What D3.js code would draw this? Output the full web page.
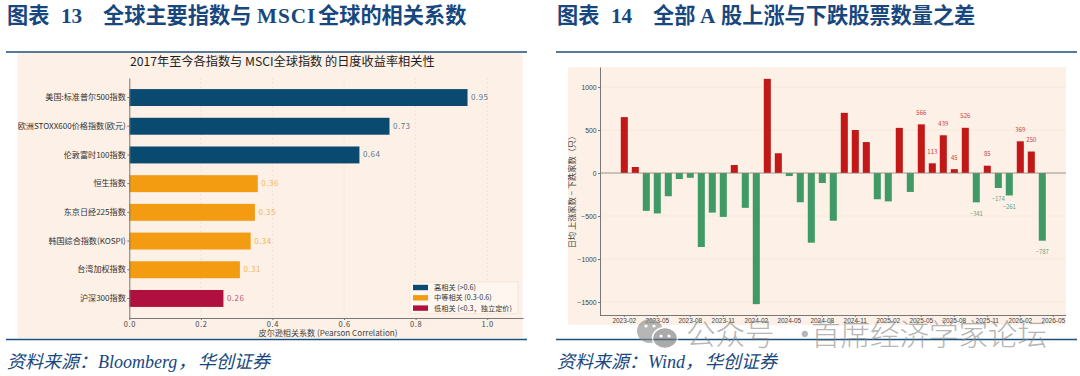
<!DOCTYPE html>
<html>
<head>
<meta charset="utf-8">
<script src="https://cdn.jsdelivr.net/npm/d3@7"></script>
<style>
    html, body { margin: 0; padding: 0; background: #fff; }
    svg { display: block; }
    text { font-family: "Noto Sans CJK SC", "Liberation Sans", sans-serif; }
    .latin { font-family: "Liberation Serif", serif; }
    .axis path, .axis line { stroke: #777; }
</style>
</head>
<body>
<svg id="page" width="1080" height="376"></svg>
<script>
// left chart
const indexNames = ["美国:标准普尔500指数", "欧洲STOXX600价格指数(欧元)", "伦敦富时100指数", "恒生指数",
    "东京日经225指数", "韩国综合指数(KOSPI)", "台湾加权指数", "沪深300指数"];
const correlations = [0.945, 0.727, 0.643, 0.359, 0.351, 0.339, 0.309, 0.263];
const corrLabels = ["0.95", "0.73", "0.64", "0.36", "0.35", "0.34", "0.31", "0.26"];
const corrTicks = [0, 0.2, 0.4, 0.6, 0.8, 1.0];
const legendLabels = ["高相关 (>0.6)", "中等相关 (0.3-0.6)", "低相关 (<0.3，独立定价)"];

// right chart
const months = ["2023-02", "2023-03", "2023-04", "2023-05", "2023-06", "2023-07", "2023-08", "2023-09", "2023-10", "2023-11",
    "2023-12", "2024-01", "2024-02", "2024-03", "2024-04", "2024-05", "2024-06", "2024-07", "2024-08", "2024-09",
    "2024-10", "2024-11", "2024-12", "2025-01", "2025-02", "2025-03", "2025-04", "2025-05", "2025-06", "2025-07",
    "2025-08", "2025-09", "2025-10", "2025-11", "2025-12", "2026-01", "2026-02", "2026-03", "2026-04", "2026-05"];
const breadth = [650, 70, -440, -470, -270, -70, -55, -860, -460, -510,
    93, -405, -1525, 1095, 230, -35, -340, -810, -116, -555,
    700, 500, 360, -305, -330, 525, -220, 566, 113, 439,
    45, 526, -341, 85, -174, -261, 369, 250, -787];
// only the last months carry a number on the chart
const labelledFrom = 27;
const breadthTicks = [1000, 500, 0, -500, -1000, -1500];

const navy = "#0b4a70", orange = "#f39c12", crimson = "#b0103f";
const red = "#c21818", green = "#3f9a66";
const headBlue = "#17477e", panelBg = "#fdf0e6";

function corrColor(v) {
    if (v > 0.6) return navy;
    if (v >= 0.3) return orange;
    return crimson;
}

const svg = d3.select("#page");

// headings, rules and sources
function heading(parts) {
    let t = svg.append("text")
        .attr("y", 23)
        .attr("fill", headBlue)
        .style("font-size", "21.2px")
        .style("font-weight", 700);
    parts.forEach(p => {
        t.append("tspan")
            .attr("x", p.x)
            .attr("class", p.latin ? "latin" : null)
            .style("letter-spacing", p.spacing ? p.spacing + "px" : null)
            .text(p.text);
    });
}
heading([
    { x: 7, text: "图表" },
    { x: 61, text: "13", latin: true },
    { x: 103, text: "全球主要指数与" },
    { x: 257, text: "MSCI", latin: true, spacing: 1 },
    { x: 318, text: "全球的相关系数" }
]);
heading([
    { x: 557, text: "图表" },
    { x: 611, text: "14", latin: true },
    { x: 653, text: "全部" },
    { x: 700, text: "A", latin: true },
    { x: 721, text: "股上涨与下跌股票数量之差" }
]);

function source(parts) {
    let t = svg.append("text")
        .attr("y", 368)
        .attr("fill", headBlue)
        .style("font-size", "18px")
        .style("font-style", "italic");
    parts.forEach(p => {
        t.append("tspan")
            .attr("x", p.x)
            .attr("class", p.latin ? "latin" : null)
            .text(p.text);
    });
}
source([{ x: 7, text: "资料来源：" }, { x: 98, text: "Bloomberg", latin: true }, { x: 178, text: "，" }, { x: 198, text: "华创证券" }]);
source([{ x: 557, text: "资料来源：" }, { x: 648, text: "Wind", latin: true }, { x: 685, text: "，" }, { x: 705, text: "华创证券" }]);

// panels go under the rules
svg.append("rect").attr("x", 17.5).attr("y", 53).attr("width", 505).attr("height", 285).attr("fill", panelBg);
svg.append("rect").attr("x", 568).attr("y", 67).attr("width", 498).attr("height", 258).attr("fill", panelBg);

[[6, 527], [556, 1077]].forEach(r => {
    [52, 339.5].forEach(y => {
        svg.append("line")
            .attr("x1", r[0]).attr("x2", r[1]).attr("y1", y).attr("y2", y)
            .attr("stroke", "#1f4e79").attr("stroke-width", 1.5);
    });
});

// ---- left chart
const x = d3.scaleLinear().domain([0, 1.1]).range([129.3, 523]);
const y = d3.scaleBand().domain(indexNames).range([78, 318]).paddingInner(0.41).paddingOuter(0.386);

svg.append("text")
    .attr("x", 282.3).attr("y", 65.5)
    .attr("text-anchor", "middle")
    .attr("fill", "#222")
    .style("font-size", "12.2px")
    .text("2017年至今各指数与 MSCI全球指数 的日度收益率相关性");

svg.append("g").selectAll("line")
    .data(corrTicks.slice(1))
    .enter().append("line")
    .attr("x1", d => x(d)).attr("x2", d => x(d))
    .attr("y1", 78).attr("y2", 318)
    .attr("stroke", "#e9dcd0").attr("stroke-width", 0.6).attr("stroke-dasharray", "2,2");

svg.selectAll(".corr")
    .data(indexNames)
    .enter().append("rect")
    .attr("class", "corr")
    .attr("x", x(0))
    .attr("y", d => y(d))
    .attr("height", y.bandwidth())
    .attr("width", (d, i) => x(correlations[i]) - x(0))
    .attr("fill", (d, i) => corrColor(correlations[i]));

svg.selectAll(".corr-label")
    .data(indexNames)
    .enter().append("text")
    .attr("class", "corr-label")
    .attr("x", (d, i) => x(correlations[i]) + 3.5)
    .attr("y", d => y(d) + y.bandwidth() / 2 + 2.5)
    .attr("fill", (d, i) => corrColor(correlations[i]))
    .attr("fill-opacity", 0.75)
    .style("font-size", "8px")
    .style("letter-spacing", "0.5px")
    .text((d, i) => corrLabels[i]);

let xAxis = svg.append("g")
    .attr("class", "axis")
    .attr("transform", "translate(0,318)")
    .call(d3.axisBottom(x).tickValues(corrTicks).tickFormat(d3.format(".1f")).tickSize(2).tickSizeOuter(0).tickPadding(2));
xAxis.selectAll("text").attr("fill", "#444").style("font-size", "7.5px").style("letter-spacing", "0.6px");

let yAxis = svg.append("g")
    .attr("class", "axis")
    .attr("transform", "translate(129.3,0)")
    .call(d3.axisLeft(y).tickSize(2).tickSizeOuter(0).tickPadding(1.5));
yAxis.selectAll("text").attr("fill", "#333").style("font-size", "8.1px");

svg.append("text")
    .attr("x", 328).attr("y", 336)
    .attr("text-anchor", "middle")
    .attr("fill", "#444")
    .style("font-size", "8.1px")
    .text("皮尔逊相关系数 (Pearson Correlation)");

// legend
svg.append("rect")
    .attr("x", 410).attr("y", 282).attr("width", 108).attr("height", 31.5)
    .attr("fill", "#fef6ef").attr("stroke", "#eadfd4").attr("stroke-width", 0.6);
let legend = svg.selectAll(".legend")
    .data(legendLabels)
    .enter().append("g")
    .attr("class", "legend")
    .attr("transform", (d, i) => "translate(413," + (287.5 + i * 10.3) + ")");
legend.append("rect")
    .attr("y", -2.7).attr("width", 15).attr("height", 5.4)
    .attr("fill", (d, i) => [navy, orange, crimson][i]);
legend.append("text")
    .attr("x", 21).attr("y", 2.6)
    .attr("fill", "#333")
    .style("font-size", "7.2px")
    .text(d => d);

// ---- right chart
const bx = d3.scaleBand().domain(months).range([618.8, 1058.8]).paddingInner(0.36).paddingOuter(0.18);
const by = d3.scaleLinear().domain([-1651, 1233]).range([315, 67]);

svg.append("g").selectAll("line")
    .data(breadthTicks)
    .enter().append("line")
    .attr("x1", 600).attr("x2", 1066)
    .attr("y1", d => by(d)).attr("y2", d => by(d))
    .attr("stroke", "#f3e5d9").attr("stroke-width", 0.6);

svg.selectAll(".bar")
    .data(breadth)
    .enter().append("rect")
    .attr("class", "bar")
    .attr("x", (d, i) => bx(months[i]))
    .attr("width", bx.bandwidth())
    .attr("y", d => Math.min(by(d), by(0)))
    .attr("height", d => Math.abs(by(d) - by(0)))
    .attr("fill", d => d > 0 ? red : green);

svg.selectAll(".bar-label")
    .data(breadth.slice(labelledFrom))
    .enter().append("text")
    .attr("class", "bar-label")
    .attr("x", (d, i) => bx(months[i + labelledFrom]) + bx.bandwidth() / 2)
    .attr("y", d => by(d) + (d > 0 ? -9.5 : 13.5))
    .attr("text-anchor", "middle")
    .attr("fill", d => d > 0 ? "#c94040" : "#5fa583")
    .style("font-size", "6px")
    .text(d => d < 0 ? "−" + Math.abs(d) : d);

svg.append("line")
    .attr("x1", 600).attr("x2", 1066).attr("y1", by(0)).attr("y2", by(0))
    .attr("stroke", "#8a8078").attr("stroke-width", 0.8);

let bxAxis = svg.append("g")
    .attr("class", "axis")
    .attr("transform", "translate(0,315)")
    .call(d3.axisBottom(bx).tickValues(months.filter((d, i) => i % 3 == 0)).tickSize(2).tickSizeOuter(0).tickPadding(1.5));
bxAxis.select("path").attr("d", "M600,0.5H1066");
bxAxis.selectAll("text").attr("fill", "#444").style("font-family", "Liberation Sans").style("font-size", "6.5px");

let byAxis = svg.append("g")
    .attr("class", "axis")
    .attr("transform", "translate(600,0)")
    .call(d3.axisLeft(by).tickValues(breadthTicks).tickFormat(d => d < 0 ? "−" + Math.abs(d) : d).tickSize(2).tickSizeOuter(0).tickPadding(1.5));
byAxis.selectAll("text").attr("fill", "#444").style("font-family", "Liberation Sans").style("font-size", "6.8px");

svg.append("text")
    .attr("transform", "translate(575,190) rotate(-90)")
    .attr("text-anchor", "middle")
    .attr("fill", "#444")
    .style("font-size", "8.2px")
    .text("日均 上涨家数 − 下跌家数（只）");

// ---- watermark
let mark = svg.append("g").attr("opacity", 0.62);
mark.append("ellipse").attr("cx", 650).attr("cy", 331).attr("rx", 13).attr("ry", 12).attr("fill", "#8a8a8a");
mark.append("ellipse").attr("cx", 665).attr("cy", 338).attr("rx", 12.5).attr("ry", 10.5)
    .attr("fill", "#777").attr("stroke", "#fff").attr("stroke-width", 1.5);
[[646, 326], [654, 326], [661, 336], [669, 336]].forEach(p => {
    mark.append("circle").attr("cx", p[0]).attr("cy", p[1]).attr("r", 1.6).attr("fill", "#fff");
});
mark.append("text")
    .attr("x", 686).attr("y", 345)
    .attr("fill", "#8a8a8a")
    .style("font-size", "29.5px")
    .style("font-weight", 300)
    .text("公众号");
mark.append("text")
    .attr("x", 790).attr("y", 345)
    .attr("fill", "#8a8a8a")
    .style("font-size", "29.5px")
    .text("·");
mark.append("text")
    .attr("x", 811).attr("y", 345)
    .attr("fill", "#8a8a8a")
    .style("font-size", "29.5px")
    .style("font-weight", 300)
    .text("首席经济学家论坛");
</script>
</body>
</html>
